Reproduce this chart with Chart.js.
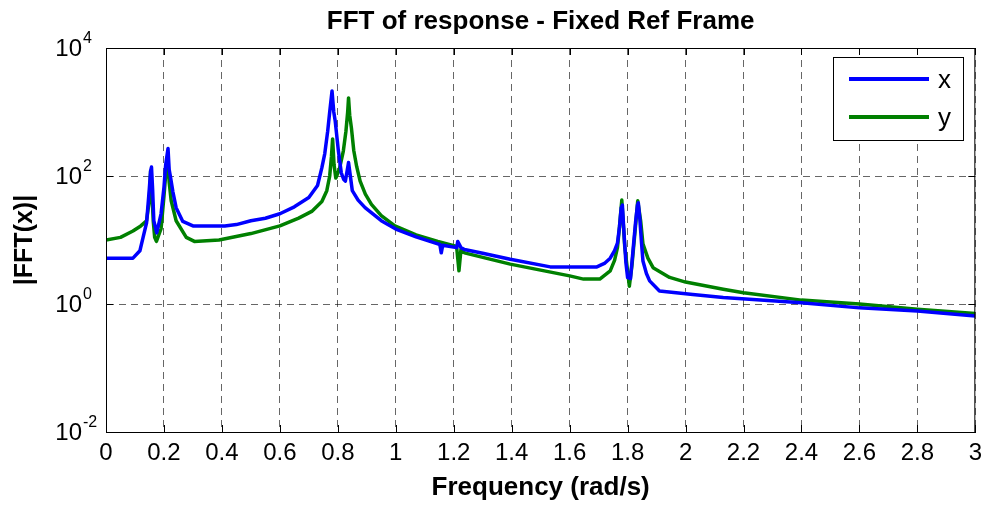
<!DOCTYPE html>
<html>
<head>
<meta charset="utf-8">
<script src="https://cdn.jsdelivr.net/npm/chart.js@4.4.0/dist/chart.umd.min.js"></script>
<style>
  html, body { margin: 0; padding: 0; background: #fff; }
  canvas { display: block; }
</style>
</head>
<body>
<canvas id="fft" width="989" height="506"></canvas>
<script>
// spectrum of the x response
const freqX = [0, 0.093, 0.117, 0.128, 0.14, 0.149, 0.154, 0.157, 0.161, 0.165, 0.175, 0.19, 0.2, 0.206, 0.214,
  0.218, 0.222, 0.231, 0.242, 0.265, 0.3, 0.41, 0.45, 0.5, 0.55, 0.6, 0.65, 0.7, 0.73, 0.745, 0.755,
  0.765, 0.772, 0.78, 0.786, 0.791, 0.802, 0.812, 0.82, 0.826, 0.832, 0.837, 0.842, 0.85, 0.87, 0.894, 0.95,
  1.0, 1.07, 1.145, 1.152, 1.157, 1.162, 1.21, 1.214, 1.225, 1.237, 1.3, 1.395, 1.533, 1.694, 1.72, 1.74,
  1.755, 1.765, 1.772, 1.778, 1.782, 1.788, 1.794, 1.8, 1.81, 1.82, 1.828, 1.834, 1.837, 1.842, 1.848,
  1.853, 1.865, 1.876, 1.91, 2.025, 2.13, 2.4, 2.6, 2.8, 3.0];
const ampX = [5.2, 5.2, 6.8, 11, 18.6, 59, 120, 138, 60, 20, 12.9, 25.7, 66, 150, 270,
  126, 100, 56, 32, 19.5, 16.6, 16.6, 17.4, 20, 21.9, 25.7, 33, 46, 71, 135, 224,
  500, 1000, 2130, 1000, 724, 245, 112, 89, 83, 120, 162, 110, 59, 42, 32, 20,
  14.8, 11.2, 8.7, 8.5, 6.3, 8.3, 7.6, 9.5, 7.6, 7.1, 6.2, 5.0, 3.8, 3.8, 4.3, 5.2,
  6.8, 8.9, 16, 32, 35, 12, 4.5, 2.6, 2.5, 8, 20, 35, 38, 22, 9,
  4.7, 3.0, 2.3, 1.6, 1.41, 1.26, 1.05, 0.87, 0.78, 0.65];

// spectrum of the y response
const freqY = [0, 0.05, 0.093, 0.12, 0.14, 0.149, 0.154, 0.158, 0.163, 0.168, 0.174, 0.19, 0.2, 0.207, 0.213,
  0.218, 0.225, 0.242, 0.277, 0.305, 0.39, 0.5, 0.6, 0.665, 0.71, 0.745, 0.762, 0.772, 0.778, 0.782, 0.787,
  0.793, 0.805, 0.819, 0.828, 0.834, 0.837, 0.841, 0.847, 0.855, 0.865, 0.877, 0.895, 0.916, 0.95, 0.997,
  1.07, 1.145, 1.21, 1.218, 1.225, 1.237, 1.395, 1.6, 1.648, 1.704, 1.74, 1.755, 1.765, 1.772, 1.78, 1.79,
  1.806, 1.815, 1.825, 1.835, 1.845, 1.853, 1.87, 1.888, 1.945, 2.0, 2.13, 2.2, 2.4, 2.6, 2.8, 3.0];
const ampY = [10, 11, 13.8, 16.6, 20, 40, 120, 60, 20, 11, 9.5, 15, 48, 120, 195,
  80, 41, 20, 11, 9.5, 10, 12.6, 16.6, 22, 28, 40, 59, 100, 200, 380, 150,
  93, 126, 245, 500, 1000, 1660, 890, 560, 250, 141, 83, 52, 36, 24, 16.6,
  12, 9.5, 7.9, 3.3, 7.1, 6.3, 4.2, 2.75, 2.45, 2.45, 3.3, 4.8, 7.6, 16, 42, 8,
  1.9, 4, 12.6, 41, 20, 8.7, 5.2, 3.7, 2.6, 2.2, 1.7, 1.5, 1.15, 1.0, 0.83, 0.71];

const seriesNames = ['x', 'y'];
const seriesColors = ['#0000ff', '#008000'];
const yTickExps = [-2, 0, 2, 4];
const chartTitle = 'FFT of response - Fixed Ref Frame';
const xAxisTitle = 'Frequency (rad/s)';
const yAxisTitle = '|FFT(x)|';

const FONT = "'Liberation Sans', Arial, Helvetica, sans-serif";

function toPoints(fs, vs) {
  return fs.map((f, i) => ({ x: f, y: vs[i] }));
}

// box, inward ticks, power-of-ten labels, title and legend in the matlab look
const matlabAxes = {
  id: 'matlabAxes',
  afterDraw(chart) {
    const ctx = chart.ctx;
    const a = chart.chartArea;
    const xs = chart.scales.x;
    const ys = chart.scales.y;
    const tick = 7;

    ctx.save();
    ctx.strokeStyle = '#000';
    ctx.lineWidth = 1;
    ctx.setLineDash([]);
    ctx.strokeRect(a.left + 0.5, a.top + 0.5, a.right - a.left - 1, a.bottom - a.top);

    ctx.beginPath();
    xs.ticks.forEach(t => {
      const px = Math.round(xs.getPixelForValue(t.value)) + 0.5;
      ctx.moveTo(px, a.bottom); ctx.lineTo(px, a.bottom - tick);
      ctx.moveTo(px, a.top); ctx.lineTo(px, a.top + tick);
    });
    yTickExps.forEach(e => {
      const py = Math.round(ys.getPixelForValue(Math.pow(10, e))) + 0.5;
      ctx.moveTo(a.left, py); ctx.lineTo(a.left + tick, py);
      ctx.moveTo(a.right, py); ctx.lineTo(a.right - tick, py);
    });
    ctx.stroke();

    // 10^n labels
    ctx.fillStyle = '#000';
    ctx.textBaseline = 'alphabetic';
    yTickExps.forEach(e => {
      const py = ys.getPixelForValue(Math.pow(10, e));
      ctx.font = '24px ' + FONT;
      ctx.textAlign = 'right';
      ctx.fillText('10', 82, py + 8);
      ctx.font = '16px ' + FONT;
      ctx.textAlign = 'left';
      ctx.fillText(String(e), 83, py - 5);
    });

    // title
    ctx.font = 'bold 26px ' + FONT;
    ctx.textAlign = 'center';
    ctx.textBaseline = 'middle';
    ctx.fillText(chartTitle, (a.left + a.right) / 2, 22);

    // legend
    const lx = 833, ly = 57, lw = 130, lh = 83;
    ctx.fillStyle = '#fff';
    ctx.fillRect(lx, ly, lw, lh);
    ctx.strokeStyle = '#000';
    ctx.strokeRect(lx + 0.5, ly + 0.5, lw, lh);
    chart.data.datasets.forEach((ds, i) => {
      const y = 79 + i * 38;
      ctx.strokeStyle = ds.borderColor;
      ctx.lineWidth = 4;
      ctx.beginPath();
      ctx.moveTo(849, y); ctx.lineTo(929, y);
      ctx.stroke();
      ctx.fillStyle = '#000';
      ctx.font = '26px ' + FONT;
      ctx.textAlign = 'left';
      ctx.textBaseline = 'alphabetic';
      ctx.fillText(ds.label, 938, y + 9);
    });
    ctx.restore();
  }
};

const ctx = document.getElementById('fft').getContext('2d');
new Chart(ctx, {
  type: 'line',
  data: {
    datasets: [
      { label: seriesNames[0], data: toPoints(freqX, ampX), borderColor: seriesColors[0] },
      { label: seriesNames[1], data: toPoints(freqY, ampY), borderColor: seriesColors[1] }
    ]
  },
  options: {
    responsive: false,
    animation: false,
    devicePixelRatio: 1,
    layout: { padding: { top: 48, right: 8, left: 0, bottom: 0 } },
    elements: {
      line: { borderWidth: 3.5, tension: 0, fill: false, borderJoinStyle: 'round' },
      point: { radius: 0 }
    },
    plugins: {
      legend: { display: false },
      title: { display: false },
      tooltip: { enabled: false }
    },
    scales: {
      x: {
        type: 'linear',
        min: 0,
        max: 3,
        afterFit(scale) { scale.height = 74; },
        ticks: {
          stepSize: 0.2,
          padding: 7,
          color: '#000',
          font: { family: FONT, size: 24 },
          callback: v => String(Math.round(v * 10) / 10)
        },
        grid: { color: 'rgba(0,0,0,0.6)', lineWidth: 1, drawTicks: false },
        border: { color: '#000', dash: [7, 5] },
        title: {
          display: true,
          text: xAxisTitle,
          color: '#000',
          font: { family: FONT, size: 26, weight: 'bold' },
          padding: { top: 0, bottom: 3 }
        }
      },
      y: {
        type: 'logarithmic',
        min: 0.01,
        max: 10000,
        afterFit(scale) { scale.width = 106; },
        afterBuildTicks(scale) {
          scale.ticks = yTickExps.map(e => ({ value: Math.pow(10, e) }));
        },
        ticks: { display: false },
        grid: { color: 'rgba(0,0,0,0.6)', lineWidth: 1, drawTicks: false },
        border: { color: '#000', dash: [7, 5] },
        title: {
          display: true,
          text: yAxisTitle,
          color: '#000',
          font: { family: FONT, size: 25, weight: 'bold' },
          padding: { top: 10, bottom: 0 }
        }
      }
    }
  },
  plugins: [matlabAxes]
});
</script>
</body>
</html>
